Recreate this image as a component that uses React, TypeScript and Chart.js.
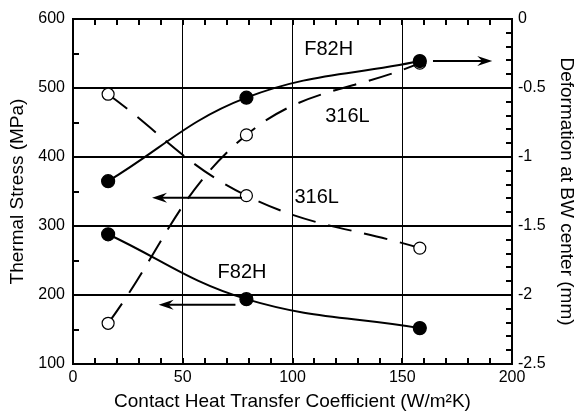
import React, { useEffect, useRef } from 'react';
import { Chart, registerables } from 'chart.js';

Chart.register(...registerables);

// ---- data ----
const xValues = [16, 79, 158];
const f82hStress = [288, 194, 152];
const l316Stress = [491, 344, 268];
const f82hDeform = [-1.175, -0.57, -0.305];
const l316Deform = [-2.205, -0.84, -0.32];

const xMin = 0, xMax = 200, xStep = 50, xMinorStep = 10;
const yMin = 100, yMax = 600, yStep = 100, yMinorStep = 50;
const y2Min = -2.5, y2Max = 0, y2Step = 0.5, y2MinorStep = 0.1;

const xTitle = 'Contact Heat Transfer Coefficient (W/m²K)';
const yTitle = 'Thermal Stress (MPa)';
const y2Title = 'Deformation at BW center (mm)';

const labels: [string, number, number][] = [
  ['F82H', 116.5, 556],
  ['316L', 125, 458],
  ['316L', 111, 342],
  ['F82H', 77, 232],
];
const arrows: [number, number, number][] = [
  [164, 191, 539],
  [77, 36, 341],
  [74, 39, 186],
];

const FONT = "'Liberation Sans', Arial, sans-serif";

const pts = (ys: number[]) => xValues.map((x, i) => ({ x, y: ys[i] }));

export default function App() {
  const ref = useRef<HTMLCanvasElement | null>(null);
  useEffect(() => {
    if (!ref.current) return;
    const annot = {
      id: 'annot',
      afterDatasetsDraw(chart: any) {
        const ctx = chart.ctx;
        const xs = chart.scales.x, ys = chart.scales.y;
        ctx.save();
        ctx.fillStyle = '#000';
        ctx.strokeStyle = '#000';
        ctx.font = `20px ${FONT}`;
        ctx.textAlign = 'center';
        ctx.textBaseline = 'middle';
        for (const [t, x, y] of labels) {
          ctx.fillText(t, xs.getPixelForValue(x), ys.getPixelForValue(y));
        }
        for (const [x0, x1, y] of arrows) {
          const px0 = xs.getPixelForValue(x0), px1 = xs.getPixelForValue(x1);
          const py = ys.getPixelForValue(y);
          const dir = Math.sign(px1 - px0);
          const hl = 15, hw = 5;
          ctx.lineWidth = 2;
          ctx.beginPath();
          ctx.moveTo(px0, py);
          ctx.lineTo(px1 - dir * 8, py);
          ctx.stroke();
          ctx.beginPath();
          ctx.moveTo(px1, py);
          ctx.lineTo(px1 - dir * hl, py - hw);
          ctx.lineTo(px1 - dir * (hl - 5), py);
          ctx.lineTo(px1 - dir * hl, py + hw);
          ctx.closePath();
          ctx.fill();
        }
        // minor ticks
        const area = chart.chartArea;
        const left = area.left, right = area.right, top = area.top, bottom = area.bottom;
        const L = 6;
        ctx.fillStyle = '#000';
        const nx = Math.round((xMax - xMin) / xMinorStep);
        for (let i = 1; i < nx; i++) {
          const p = Math.round(left + (right - left) * i / nx);
          ctx.fillRect(p - 1, bottom - L, 2, L);
          ctx.fillRect(p - 1, top, 2, L);
        }
        const ny = Math.round((yMax - yMin) / yMinorStep);
        for (let i = 1; i < ny; i++) {
          const p = Math.round(bottom - (bottom - top) * i / ny);
          ctx.fillRect(left, p - 1, L, 2);
        }
        const ny2 = Math.round((y2Max - y2Min) / y2MinorStep);
        for (let i = 1; i < ny2; i++) {
          const p = Math.round(bottom - (bottom - top) * i / ny2);
          ctx.fillRect(right - L, p - 1, L, 2);
        }
        ctx.restore();
      },
    };

    const solid = { borderColor: '#000', borderWidth: 2, pointRadius: 6.5, pointBorderColor: '#000', pointBorderWidth: 1.2, tension: 0.4 };
    const chart = new Chart(ref.current, {
      type: 'line',
      data: {
        datasets: [
          { ...solid, label: 'F82H deformation', data: pts(f82hDeform), yAxisID: 'y2', pointBackgroundColor: '#000' },
          { ...solid, label: '316L deformation', data: pts(l316Deform), yAxisID: 'y2', pointBackgroundColor: '#fff', pointRadius: 6, borderDash: [24, 13] },
          { ...solid, label: 'F82H stress', data: pts(f82hStress), yAxisID: 'y', pointBackgroundColor: '#000' },
          { ...solid, label: '316L stress', data: pts(l316Stress), yAxisID: 'y', pointBackgroundColor: '#fff', pointRadius: 6, borderDash: [24, 13] },
        ],
      },
      options: {
        animation: false,
        responsive: false,
        devicePixelRatio: 1,
        layout: { padding: { top: 19, left: 0, right: 0, bottom: 0 } },
        plugins: { legend: { display: false }, tooltip: { enabled: false } },
        scales: {
          x: {
            type: 'linear', min: xMin, max: xMax,
            afterFit: (s: any) => { s.height = 51; },
            ticks: { stepSize: xStep, color: '#000', font: { family: FONT, size: 16 }, padding: 4, maxRotation: 0 },
            grid: { drawTicks: false, color: '#000', lineWidth: (c: any) => (c.tick && (c.tick.value === xMin || c.tick.value === xMax) ? 2 : 1) },
            border: { display: true, color: '#000', width: 2 },
            title: { display: true, text: xTitle, color: '#000', font: { family: FONT, size: 19 }, padding: { top: 0, bottom: 2 } },
          },
          y: {
            type: 'linear', position: 'left', min: yMin, max: yMax,
            afterFit: (s: any) => { s.width = 73; },
            ticks: { stepSize: yStep, color: '#000', font: { family: FONT, size: 16 }, padding: 8 },
            grid: { drawTicks: false, color: '#000', lineWidth: 2 },
            border: { display: true, color: '#000', width: 2 },
            title: { display: true, text: yTitle, color: '#000', font: { family: FONT, size: 19 }, padding: { top: 6, bottom: 0 } },
          },
          y2: {
            type: 'linear', position: 'right', min: y2Min, max: y2Max,
            afterFit: (s: any) => { s.width = 66; },
            ticks: { stepSize: y2Step, color: '#000', font: { family: FONT, size: 16 }, padding: 6, callback: (v: any) => String(Math.round(Number(v) * 10) / 10) },
            grid: { display: false, drawTicks: false },
            border: { display: true, color: '#000', width: 2 },
            title: { display: true, text: y2Title, color: '#000', font: { family: FONT, size: 19 }, padding: { top: 0, bottom: 0 } },
          },
        },
      },
      plugins: [annot],
    });
    return () => chart.destroy();
  }, []);

  return (
    <div style={{ position: 'fixed', left: 0, top: 0, width: 578, height: 415, background: '#fff' }}>
      <canvas ref={ref} width={578} height={415} style={{ width: 578, height: 415 }} />
    </div>
  );
}
